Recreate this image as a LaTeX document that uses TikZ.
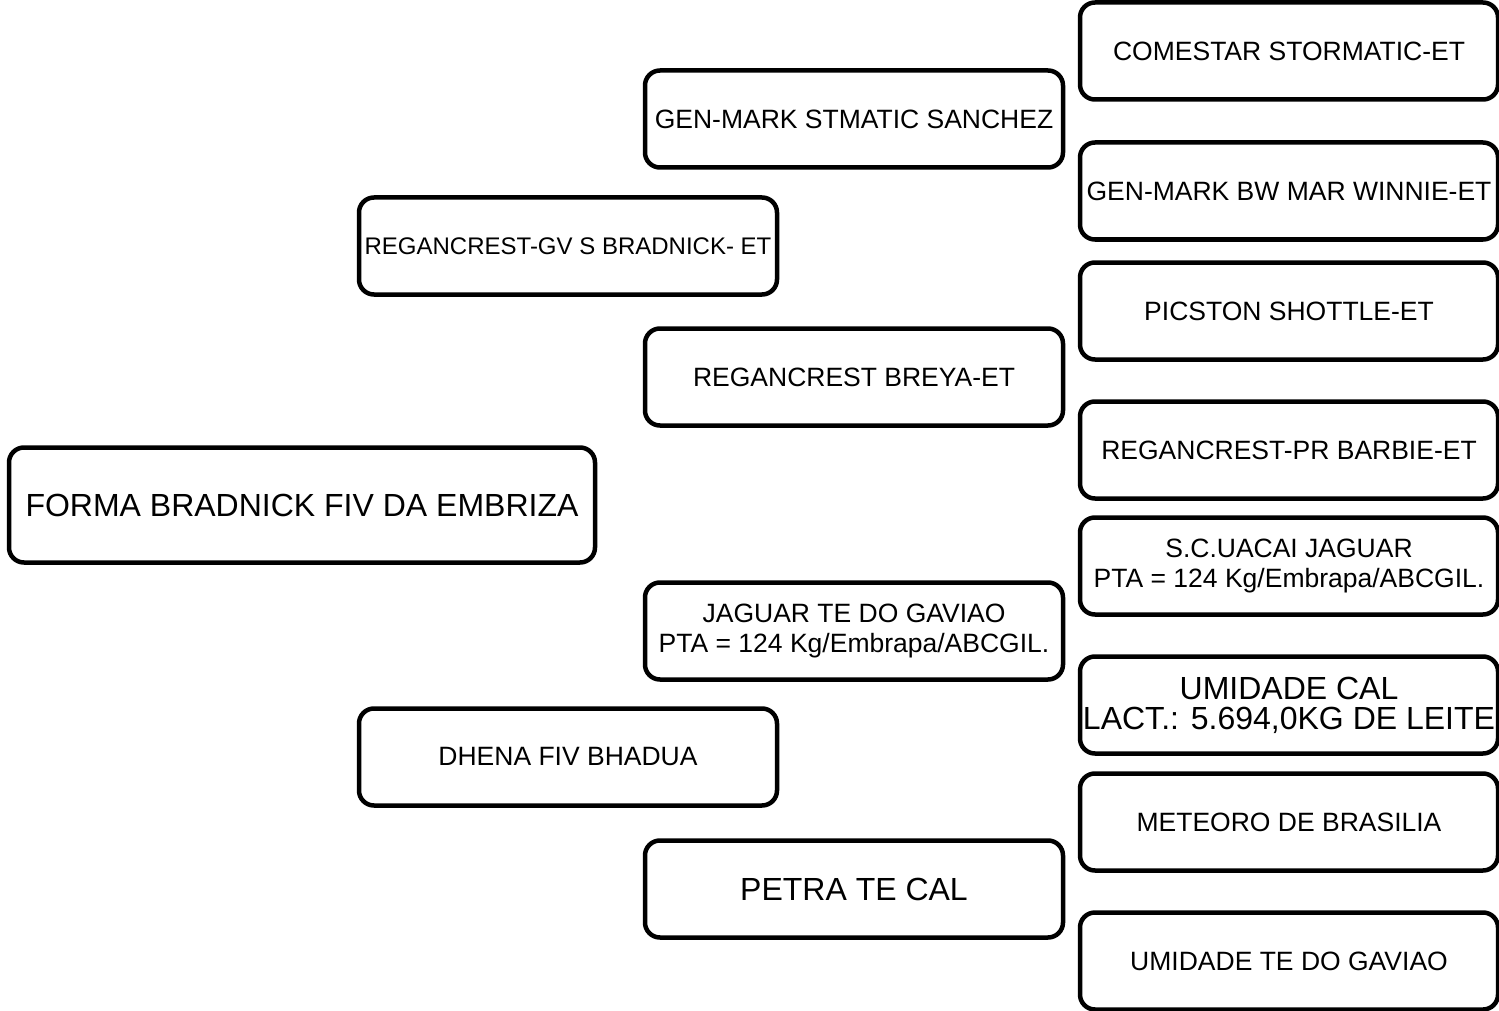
\documentclass[tikz,border=0pt]{standalone}
\usepackage{fontspec}
\setmainfont{Liberation Sans}
\usetikzlibrary{positioning}

\begin{document}
\begin{tikzpicture}[x=1pt,y=-1pt,
    box/.style={draw,line width=4.5pt,rounded corners=15pt,fill=white,
        minimum width=418pt,minimum height=97pt,inner sep=0pt,align=center,
        font=\fontsize{26.5}{30}\selectfont},
    big/.style={font=\fontsize{32}{30}\selectfont}]
            \useasboundingbox (0,0) rectangle (1499,1011);
            \node[box,big,minimum width=586pt,minimum height=115pt] (root) at (302,505){FORMA BRADNICK FIV DA EMBRIZA};
            \node[box,font=\fontsize{24}{28}\selectfont] (s) at (568,246){REGANCREST-GV S BRADNICK- ET};
            \node[box] (d) at (568,757){DHENA FIV BHADUA};
            \node[box] (ss) at (854,119){GEN-MARK STMATIC SANCHEZ};
            \node[box] (sd) at (854,377){REGANCREST BREYA-ET};
            \node[box] (ds) at (854,631){JAGUAR TE DO GAVIAO\\PTA = 124 Kg/Embrapa/ABCGIL.};
            \node[box,big] (dd) at (854,889){PETRA TE CAL};
            \foreach \n/\y/\t in {sss/51/{COMESTAR STORMATIC-ET},ssd/191/{GEN-MARK BW MAR WINNIE-ET},
                sds/311/{PICSTON SHOTTLE-ET},sdd/450/{REGANCREST-PR BARBIE-ET},
                dss/566/{S.C.UACAI JAGUAR\\PTA = 124 Kg/Embrapa/ABCGIL.},
                dds/822/{METEORO DE BRASILIA},ddd/961/{UMIDADE TE DO GAVIAO}}{
                \node[box] (\n) at (1289,\y){\t};
            }
            \node[box,big] (dsd) at (1289,705){UMIDADE CAL\\LACT.: 5.694,0KG DE LEITE};
        \end{tikzpicture}
\end{document}
